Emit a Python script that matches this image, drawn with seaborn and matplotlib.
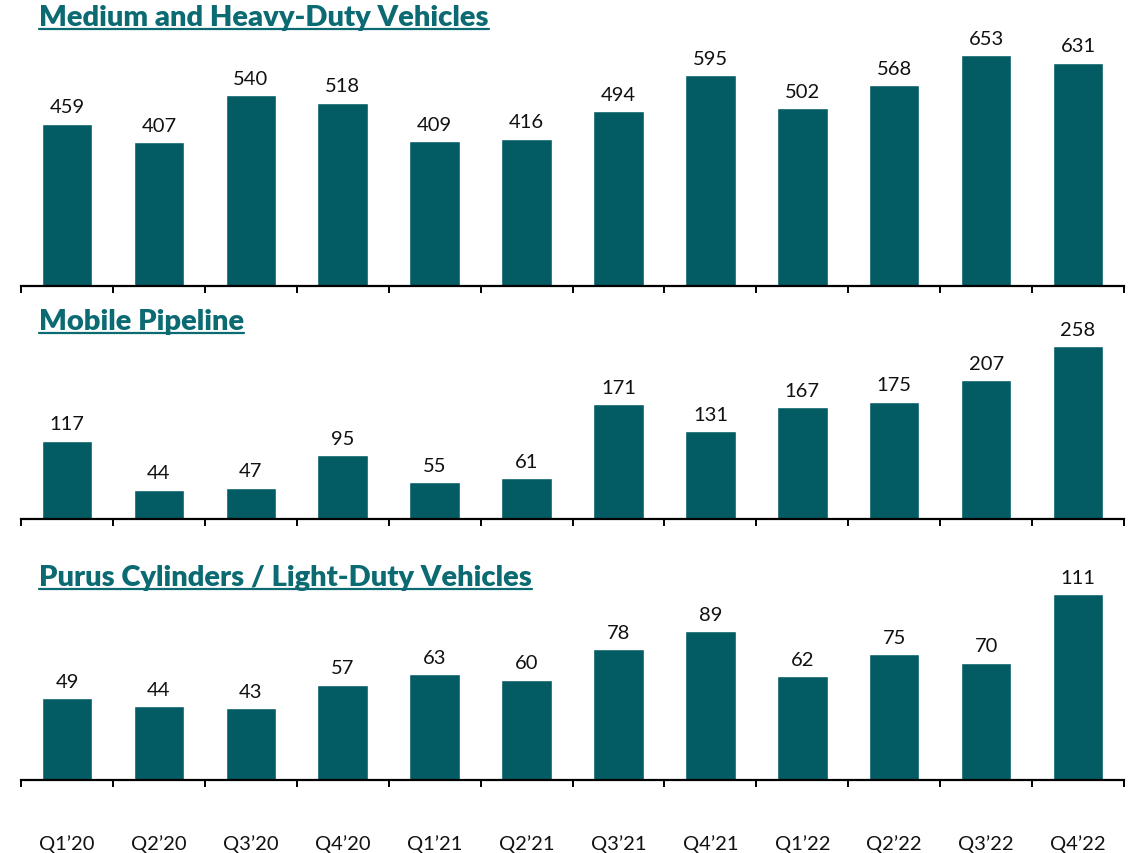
import matplotlib
matplotlib.use("Agg")
import matplotlib.pyplot as plt
from matplotlib.lines import Line2D
import seaborn as sns
import numpy as np

quarters = ["Q1’20", "Q2’20", "Q3’20", "Q4’20", "Q1’21", "Q2’21",
            "Q3’21", "Q4’21", "Q1’22", "Q2’22", "Q3’22", "Q4’22"]
heavy_duty = [459, 407, 540, 518, 409, 416, 494, 595, 502, 568, 653, 631]
mobile_pipeline = [117, 44, 47, 95, 55, 61, 171, 131, 167, 175, 207, 258]
light_duty = [49, 44, 43, 57, 63, 60, 78, 89, 62, 75, 70, 111]

titles = ["Medium and Heavy-Duty Vehicles", "Mobile Pipeline",
          "Purus Cylinders / Light-Duty Vehicles"]

sns.set_theme(style="white")
plt.rcParams["font.family"] = ["Lato", "DejaVu Sans"]

BAR = "#035B64"
TITLE = "#0B6A72"
W, H = 1137, 854
fig = plt.figure(figsize=(W / 100, H / 100), dpi=100)

# (baseline px from top, top px from top, y max) for each panel
panels = [
    (heavy_duty, 287, 35, 712),
    (mobile_pipeline, 520, 320, 298.5),
    (light_duty, 781, 580, 120),
]
title_y = [18, 322, 578]

left_px, right_px = 21, 1124
axes = []
for i, (vals, base, top, ymax) in enumerate(panels):
    ax = fig.add_axes([left_px / W, (H - base) / H, (right_px - left_px) / W, (base - top) / H])
    sns.barplot(x=quarters, y=vals, color=BAR, width=0.55, saturation=1, ax=ax)
    ax.set_xlim(-0.5, len(quarters) - 0.5)
    ax.set_ylim(0, ymax)
    for s in ["top", "right", "left"]:
        ax.spines[s].set_visible(False)
    ax.spines["bottom"].set_color("black")
    ax.spines["bottom"].set_linewidth(1.6)
    ax.set_yticks([])
    ax.set_ylabel("")
    ax.set_xlabel("")
    ax.set_xticks(np.arange(len(quarters)))
    ax.set_xticks(np.arange(-0.5, len(quarters), 1.0), minor=True)
    ax.tick_params(axis="x", which="major", length=0, pad=39, labelsize=14.5,
                   labelcolor="#111111")
    ax.tick_params(axis="x", which="minor", length=5, width=1.4, color="black",
                   direction="out", bottom=True)
    if i < 2:
        ax.set_xticklabels([])
    for x, v in enumerate(vals):
        ax.annotate(f"{v}", (x, v), xytext=(0, 6), textcoords="offset points",
                    ha="center", va="bottom", fontsize=14.5, color="#111111")
    axes.append(ax)

# Underlined panel titles
texts = []
for t, y in zip(titles, title_y):
    txt = fig.text(39 / W, 1 - y / H, t, ha="left", va="center",
                   fontsize=21, fontweight="heavy", color=TITLE)
    texts.append(txt)

fig.canvas.draw()
renderer = fig.canvas.get_renderer()
for txt in texts:
    bb = txt.get_window_extent(renderer).transformed(fig.transFigure.inverted())
    yline = bb.y0 + 1.0 / H
    fig.add_artist(Line2D([bb.x0, bb.x1], [yline, yline], transform=fig.transFigure,
                          color=TITLE, linewidth=1.6))

fig.savefig("out.png", dpi=100)
